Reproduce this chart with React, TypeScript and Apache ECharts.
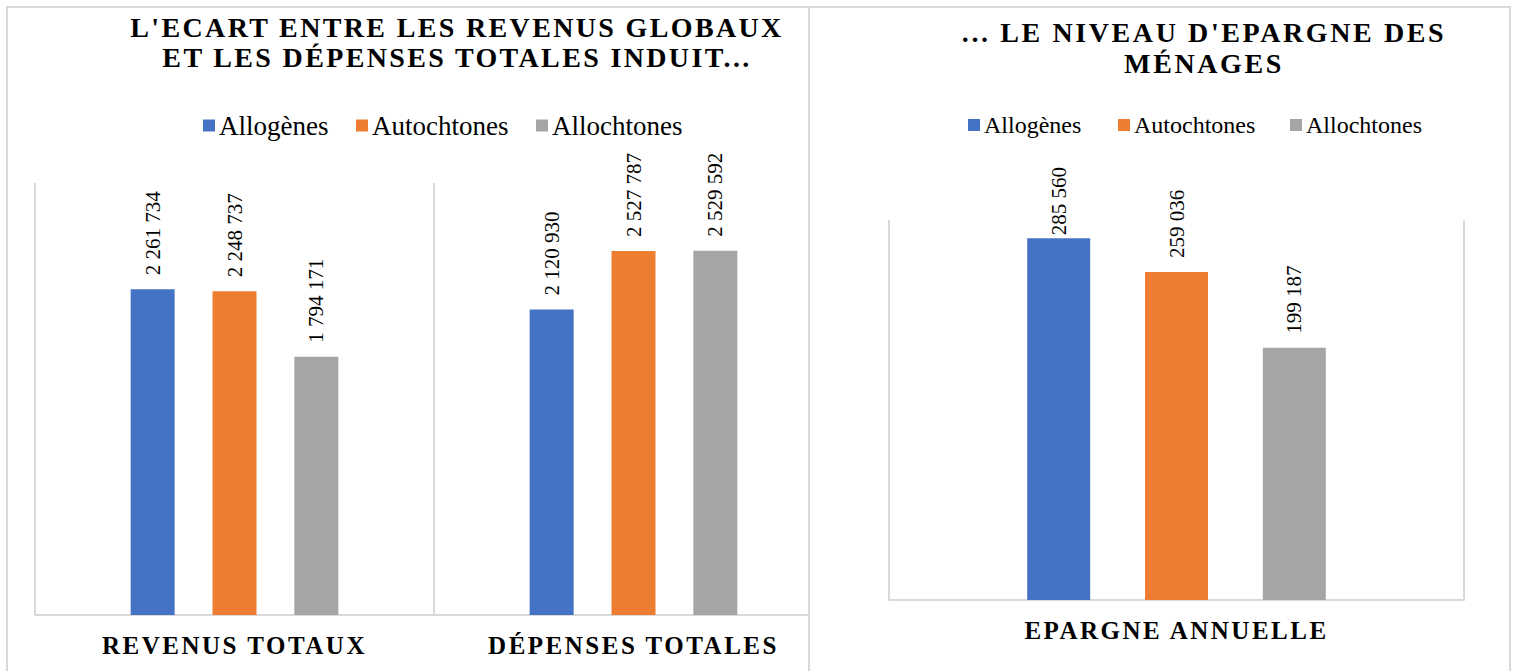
import React, { useEffect, useRef } from "react";
import * as echarts from "echarts";

const seriesNames = ["Allogènes", "Autochtones", "Allochtones"];
const colors = ["#4472C4", "#ED7D31", "#A5A5A5"];

const leftCategories = ["REVENUS TOTAUX", "DÉPENSES TOTALES"];
const allogenesLeft = [2261734, 2120930];
const autochtonesLeft = [2248737, 2527787];
const allochtonesLeft = [1794171, 2529592];

const rightCategories = ["EPARGNE ANNUELLE"];
const allogenesRight = [285560];
const autochtonesRight = [259036];
const allochtonesRight = [199187];

const leftTitle = "L'ECART ENTRE LES REVENUS GLOBAUX\nET LES DÉPENSES TOTALES INDUIT...";
const rightTitle = "... LE NIVEAU D'EPARGNE DES\nMÉNAGES";

const SERIF = '"Liberation Serif", "Times New Roman", serif';
const GRID_GRAY = "#d9d9d9";

const fmt = (v: number) => String(v).replace(/\B(?=(\d{3})+(?!\d))/g, " ");

// labelDistances[seriesIndex][dataIndex] overrides the default gap between bar and label
function makeSeries(
  data: number[][],
  barWidth: number,
  barGap: string,
  labelDistances?: (number | null)[][]
) {
  return data.map((d, i) => ({
    name: seriesNames[i],
    type: "bar",
    data: d.map((v, j) => {
      const dist = labelDistances && labelDistances[i] ? labelDistances[i][j] : null;
      return dist == null ? v : { value: v, label: { distance: dist } };
    }),
    barWidth,
    barGap,
    itemStyle: { color: colors[i] },
    label: {
      show: true,
      position: "top",
      rotate: 90,
      align: "left",
      verticalAlign: "middle",
      distance: 14,
      fontFamily: SERIF,
      fontWeight: "normal",
      fontSize: 21,
      color: "#000",
      formatter: (p: any) => fmt(p.value),
    },
  }));
}

function legends(lefts: number[], top: number, fontSize: number) {
  return seriesNames.map((n, i) => ({
    data: [n],
    left: lefts[i],
    top,
    padding: 0,
    icon: "rect",
    itemWidth: 12,
    itemHeight: 12,
    itemGap: 4,
    selectedMode: false,
    textStyle: { fontFamily: SERIF, fontSize, color: "#000", padding: [0, 0, 0, -1] },
  }));
}

function axisX(data: string[]) {
  return {
    type: "category",
    data,
    axisLine: { lineStyle: { color: GRID_GRAY, width: 2 } },
    axisTick: { show: false },
    splitLine: { show: true, lineStyle: { color: GRID_GRAY, width: 2 } },
    axisLabel: {
      fontFamily: SERIF,
      fontWeight: "bold",
      fontSize: 25,
      color: "#000",
      margin: 18,
    },
  };
}

function leftOption(): any {
  return {
    animation: false,
    textStyle: { fontFamily: SERIF },
    graphic: [
      {
        type: "rect",
        shape: { x: 7, y: 7, width: 1000, height: 800 },
        style: { fill: "none", stroke: GRID_GRAY, lineWidth: 2 },
        silent: true,
      },
      {
        type: "text",
        x: 457,
        y: 12,
        style: {
          text: leftTitle,
          align: "center",
          verticalAlign: "top",
          fontFamily: SERIF,
          fontWeight: "bold",
          fontSize: 28,
          lineHeight: 30,
          fill: "#000",
        },
      },
    ],
    legend: legends([203, 356, 536], 112, 27),
    grid: { left: 35, top: 183, width: 798, height: 432, containLabel: false },
    xAxis: axisX(leftCategories),
    yAxis: { type: "value", min: 0, max: 3000000, show: false, splitLine: { show: false } },
    series: makeSeries([allogenesLeft, autochtonesLeft, allochtonesLeft], 44, "86%"),
  };
}

function rightOption(): any {
  return {
    animation: false,
    textStyle: { fontFamily: SERIF },
    graphic: [
      {
        type: "rect",
        shape: { x: 1, y: 7, width: 701, height: 800 },
        style: { fill: "#fff", stroke: GRID_GRAY, lineWidth: 2 },
        silent: true,
        z: -10,
      },
      {
        type: "text",
        x: 396,
        y: 17,
        style: {
          text: rightTitle,
          align: "center",
          verticalAlign: "top",
          fontFamily: SERIF,
          fontWeight: "bold",
          fontSize: 28,
          lineHeight: 31,
          fill: "#000",
        },
      },
    ],
    legend: legends([160, 310, 482], 113, 24),
    grid: { left: 81, top: 220, width: 575, height: 380, containLabel: false },
    xAxis: axisX(rightCategories),
    yAxis: { type: "value", min: 0, max: 300000, show: false, splitLine: { show: false } },
    series: makeSeries(
      [allogenesRight, autochtonesRight, allochtonesRight],
      63,
      "87%",
      [[3], [null], [null]]
    ),
  };
}

const css = `
.left-panel svg text[style*="28px"] { letter-spacing: 2.35px; }
.right-panel svg text[style*="28px"] { letter-spacing: 2.6px; }
.chart-panel svg text[style*="25px"] { letter-spacing: 2.5px; }
.chart-panel svg text[style*="21px"] { font-family: "Liberation Serif", "Times New Roman", serif !important; }
`;

export default function App() {
  const leftRef = useRef<HTMLDivElement>(null);
  const rightRef = useRef<HTMLDivElement>(null);

  useEffect(() => {
    if (!leftRef.current || !rightRef.current) return;
    const l = echarts.init(leftRef.current, undefined, { renderer: "svg" });
    const r = echarts.init(rightRef.current, undefined, { renderer: "svg" });
    l.setOption(leftOption());
    r.setOption(rightOption());
    return () => {
      l.dispose();
      r.dispose();
    };
  }, []);

  return (
    <div
      style={{
        position: "absolute",
        left: 0,
        top: 0,
        width: 1513,
        height: 671,
        overflow: "hidden",
        background: "#fff",
      }}
    >
      <style>{css}</style>
      <div
        ref={leftRef}
        className="chart-panel left-panel"
        style={{ position: "absolute", left: 0, top: 0, width: 914, height: 671 }}
      />
      <div
        ref={rightRef}
        className="chart-panel right-panel"
        style={{
          position: "absolute",
          left: 808,
          top: 0,
          width: 705,
          height: 671,
          background: "#fff",
        }}
      />
    </div>
  );
}
